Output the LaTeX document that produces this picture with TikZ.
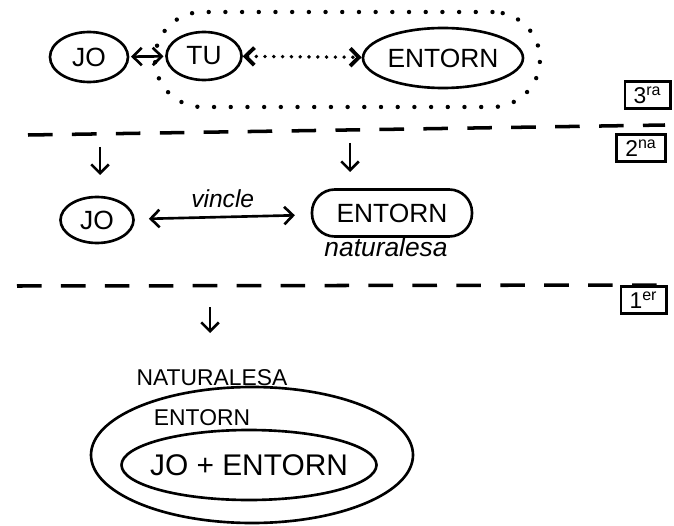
\documentclass[tikz,border=0pt]{standalone}
\usepackage{fontspec}
\setmainfont{Liberation Sans}
\usetikzlibrary{shapes.geometric,arrows.meta}
\pgfdeclarelayer{bg}
\pgfsetlayers{bg,main}

\begin{document}
\begin{tikzpicture}[line width=1.5pt, >={Straight Barb[length=5pt,width=10pt]},
  blob/.style={draw, ellipse, inner sep=0pt},
  pill/.style={draw, rounded corners=13pt, inner sep=0pt},
  tag/.style={draw, inner xsep=5pt, inner ysep=3pt, font=\fontsize{13}{15}\selectfont},
  cut/.style={line width=2pt, dash pattern=on 14pt off 11pt},
  dots/.style={line width=2.5pt, line cap=round, dash pattern=on 0pt off 9.5pt},
  fine dots/.style={line width=2.2pt, line cap=round, dash pattern=on 0pt off 5pt},
  big/.style={font=\fontsize{15}{17}\selectfont}]
  \useasboundingbox (0cm, 0cm) rectangle (13.48cm, 10.5cm);

  \node (jo1) [blob, big, minimum width=1.56cm, minimum height=1.0cm] at (1.78cm, 9.36cm) {JO};
  \node (tu) [blob, big, minimum width=1.5cm, minimum height=0.96cm] at (4.08cm, 9.38cm) {TU};
  \node (e1) [blob, big, minimum width=3.2cm, minimum height=1.2cm] at (8.86cm, 9.34cm) {ENTORN};
  \node (env) [draw, dots, rounded corners=0.95cm, minimum width=7.7cm, minimum height=1.9cm] at (6.95cm, 9.31cm) {};
  \node (t3) [tag] at (12.95cm, 8.6cm) {3\textsuperscript{ra}};

  \coordinate (c1) at (0.56cm, 7.8cm);
  \coordinate (c2) at (13.3cm, 8.0cm);
  \node (t2) [tag] at (12.82cm, 7.54cm) {2\textsuperscript{na}};

    \coordinate (a1) at (2.0cm, 7.56cm);
    \coordinate (b1) at (2.0cm, 7.0cm);
    \coordinate (a2) at (7.0cm, 7.64cm);
    \coordinate (b2) at (7.0cm, 7.06cm);

    \node (jo2) [blob, big, minimum width=1.46cm, minimum height=0.92cm] at (1.94cm, 6.1cm) {JO};
    \node (e2) [pill, big, minimum width=3.2cm, minimum height=0.94cm] at (7.84cm, 6.24cm) {ENTORN};
    \node (nat) [font=\fontsize{15}{17}\selectfont\itshape] at (7.72cm, 5.56cm) {naturalesa};

  \coordinate (d1) at (0.34cm, 4.78cm);
  \coordinate (d2) at (13.3cm, 4.8cm);
  \node (t1) [tag, fill=white] at (12.87cm, 4.5cm) {1\textsuperscript{er}};

  \coordinate (a3) at (4.2cm, 4.36cm);
  \coordinate (b3) at (4.2cm, 3.84cm);

  \node (outer) [blob, minimum width=6.44cm, minimum height=2.72cm] at (5.04cm, 1.4cm) {};
  \node (inner) [blob, inner xsep=-0.25cm, font=\fontsize{17}{19}\selectfont, minimum width=5.1cm, minimum height=1.4cm] at (4.98cm, 1.2cm) {JO + ENTORN};
  \node (natu) [font=\fontsize{13}{15}\selectfont] at (4.24cm, 2.94cm) {NATURALESA};
  \node (ent) [font=\fontsize{13}{15}\selectfont] at (4.04cm, 2.14cm) {ENTORN};

  \begin{pgfonlayer}{bg}
  \begin{scope}[line width=1.5pt]
	  \draw (jo1) edge[<->, shorten <=1pt, shorten >=1pt] (tu);
	  \draw (tu) edge[<->, fine dots] (e1);

	  \draw (c1) edge[cut] (c2);
	  \draw (a1) edge[->] (b1); \draw (a2) edge[->] (b2);

	  \draw (jo2) edge[<->, shorten <=8pt, shorten >=9pt] node[above=1pt, font=\fontsize{14}{16}\selectfont\itshape] {vincle} (e2);

	  \draw (d1) edge[cut] (d2);
	  \draw (a3) edge[->] (b3);
  \end{scope}
  \end{pgfonlayer}
\end{tikzpicture}
\end{document}
